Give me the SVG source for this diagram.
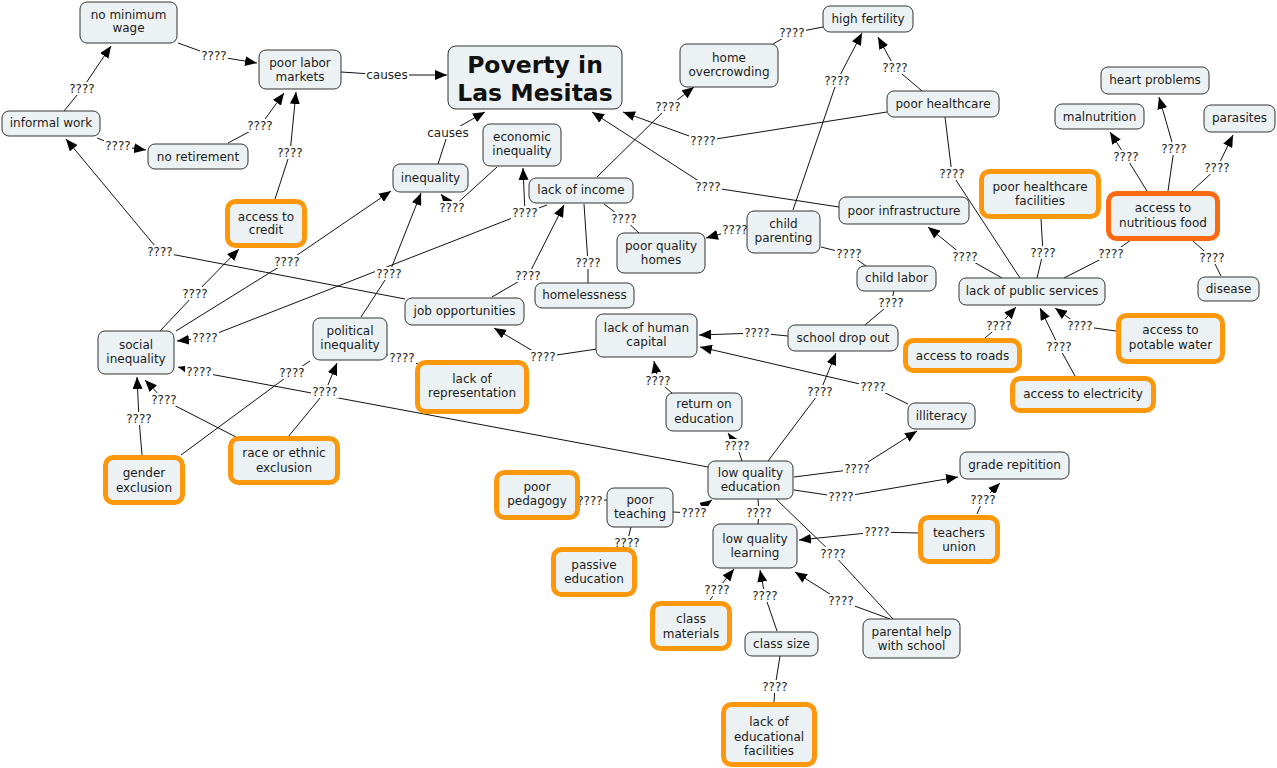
<svg xmlns="http://www.w3.org/2000/svg" width="1277" height="768" viewBox="0 0 1277 768">
<style>
text{font-family:"DejaVu Sans",Verdana,sans-serif;font-size:12px;fill:#1c1c1c;text-anchor:middle}
.n rect{fill:#ecf2f4;stroke:#333;stroke-width:1}
.o rect{fill:#ecf2f4;stroke:#fd980c;stroke-width:5}
.d rect{stroke:#fb6a10}
.t text{font-size:23.5px;font-weight:bold;fill:#111}
#connectors polyline{fill:none;stroke:#111;stroke-width:1}
#connectors .a{marker-end:url(#ah)}
.lb rect{fill:#fff}
</style>
<defs>
<marker id="ah" viewBox="0 0 12 10" refX="12" refY="5" markerWidth="12" markerHeight="10" markerUnits="userSpaceOnUse" orient="auto"><path d="M0,0 L12,5 L0,10 z" fill="#000"/></marker>
</defs>
<rect width="1277" height="768" fill="#fff"/>
<g id="connectors">
<polyline class="a" points="178,43 214,56 257,63"/>
<polyline class="a" points="64,111 82,89 111,46"/>
<polyline class="a" points="97,138 118,146 146,150"/>
<polyline class="a" points="228,143 260,126 284,93"/>
<polyline class="a" points="275,199 290,153 296,92"/>
<polyline class="a" points="341,72 387,75 447,75"/>
<polyline class="a" points="438,164 448,133 485,112"/>
<polyline class="a" points="497,167 452,208 441,194"/>
<polyline class="a" points="176,331 287,262 391,191"/>
<polyline class="a" points="160,331 195,294 239,249"/>
<polyline class="a" points="361,317 389,274 421,193"/>
<polyline class="a" points="405,299 160,252 66,139"/>
<polyline class="a" points="547,205 525,213 523,168"/>
<polyline class="a" points="525,213 205,338 177,341"/>
<polyline class="a" points="492,297 528,276 564,205"/>
<polyline points="584,204 588,263 588,283"/>
<polyline points="604,204 624,219 639,233"/>
<polyline class="a" points="597,177 668,107 694,87"/>
<polyline class="a" points="887,112 703,141 623,112"/>
<polyline class="a" points="839,207 708,187 592,112"/>
<polyline points="823,27 792,33 773,44"/>
<polyline class="a" points="793,210 837,81 862,33"/>
<polyline class="a" points="922,91 895,68 878,37"/>
<polyline points="945,117 952,174 1020,278"/>
<polyline class="a" points="1002,278 965,257 928,227"/>
<polyline points="1037,278 1043,253 1041,219"/>
<polyline points="1064,278 1111,254 1131,240"/>
<polyline class="a" points="1147,191 1126,157 1110,132"/>
<polyline class="a" points="1168,191 1174,149 1159,97"/>
<polyline class="a" points="1192,191 1217,168 1233,135"/>
<polyline points="1193,241 1212,258 1221,276"/>
<polyline class="a" points="985,338 999,326 1016,307"/>
<polyline class="a" points="1075,376 1059,347 1040,308"/>
<polyline class="a" points="1116,331 1080,326 1055,308"/>
<polyline points="821,247 849,254 866,266"/>
<polyline class="a" points="747,230 735,230 706,238"/>
<polyline points="865,325 891,303 894,291"/>
<polyline class="a" points="788,336 757,333 699,335"/>
<polyline class="a" points="908,404 873,387 700,347"/>
<polyline class="a" points="597,349 543,357 494,328"/>
<polyline class="a" points="672,393 658,381 654,361"/>
<polyline class="a" points="742,461 737,446 728,433"/>
<polyline class="a" points="768,461 820,392 836,353"/>
<polyline class="a" points="708,467 199,372 178,367"/>
<polyline class="a" points="794,477 857,469 917,431"/>
<polyline class="a" points="794,490 841,497 958,477"/>
<polyline points="758,499 759,513 758,524"/>
<polyline points="776,499 833,554 893,619"/>
<polyline class="a" points="918,533 877,532 799,540"/>
<polyline class="a" points="977,514 983,500 1000,483"/>
<polyline class="a" points="890,619 841,601 795,572"/>
<polyline class="a" points="710,600 717,590 734,569"/>
<polyline class="a" points="777,631 765,596 760,570"/>
<polyline points="774,702 775,687 780,656"/>
<polyline class="a" points="673,512 694,513 712,500"/>
<polyline points="580,500 590,501 607,500"/>
<polyline points="631,527 627,543 622,547"/>
<polyline points="387,355 402,358 418,364"/>
<polyline points="181,455 292,373 310,361"/>
<polyline class="a" points="142,455 139,419 137,377"/>
<polyline class="a" points="236,437 164,400 145,380"/>
<polyline class="a" points="288,437 325,392 337,363"/>
<g class="lb">
<rect x="200" y="49" width="28" height="13"/><text x="214" y="60">????</text>
<rect x="68" y="82" width="28" height="13"/><text x="82" y="93">????</text>
<rect x="104" y="139" width="28" height="13"/><text x="118" y="150">????</text>
<rect x="246" y="119" width="28" height="13"/><text x="260" y="130">????</text>
<rect x="276" y="146" width="28" height="13"/><text x="290" y="157">????</text>
<rect x="365" y="68" width="44" height="13"/><text x="387" y="79">causes</text>
<rect x="426" y="126" width="44" height="13"/><text x="448" y="137">causes</text>
<rect x="438" y="201" width="28" height="13"/><text x="452" y="212">????</text>
<rect x="273" y="255" width="28" height="13"/><text x="287" y="266">????</text>
<rect x="181" y="287" width="28" height="13"/><text x="195" y="298">????</text>
<rect x="375" y="267" width="28" height="13"/><text x="389" y="278">????</text>
<rect x="146" y="245" width="28" height="13"/><text x="160" y="256">????</text>
<rect x="511" y="206" width="28" height="13"/><text x="525" y="217">????</text>
<rect x="191" y="331" width="28" height="13"/><text x="205" y="342">????</text>
<rect x="514" y="269" width="28" height="13"/><text x="528" y="280">????</text>
<rect x="574" y="256" width="28" height="13"/><text x="588" y="267">????</text>
<rect x="610" y="212" width="28" height="13"/><text x="624" y="223">????</text>
<rect x="654" y="100" width="28" height="13"/><text x="668" y="111">????</text>
<rect x="689" y="134" width="28" height="13"/><text x="703" y="145">????</text>
<rect x="694" y="180" width="28" height="13"/><text x="708" y="191">????</text>
<rect x="778" y="26" width="28" height="13"/><text x="792" y="37">????</text>
<rect x="823" y="74" width="28" height="13"/><text x="837" y="85">????</text>
<rect x="881" y="61" width="28" height="13"/><text x="895" y="72">????</text>
<rect x="938" y="167" width="28" height="13"/><text x="952" y="178">????</text>
<rect x="951" y="250" width="28" height="13"/><text x="965" y="261">????</text>
<rect x="1029" y="246" width="28" height="13"/><text x="1043" y="257">????</text>
<rect x="1097" y="247" width="28" height="13"/><text x="1111" y="258">????</text>
<rect x="1112" y="150" width="28" height="13"/><text x="1126" y="161">????</text>
<rect x="1160" y="142" width="28" height="13"/><text x="1174" y="153">????</text>
<rect x="1203" y="161" width="28" height="13"/><text x="1217" y="172">????</text>
<rect x="1198" y="251" width="28" height="13"/><text x="1212" y="262">????</text>
<rect x="985" y="319" width="28" height="13"/><text x="999" y="330">????</text>
<rect x="1045" y="340" width="28" height="13"/><text x="1059" y="351">????</text>
<rect x="1066" y="319" width="28" height="13"/><text x="1080" y="330">????</text>
<rect x="835" y="247" width="28" height="13"/><text x="849" y="258">????</text>
<rect x="721" y="223" width="28" height="13"/><text x="735" y="234">????</text>
<rect x="877" y="296" width="28" height="13"/><text x="891" y="307">????</text>
<rect x="743" y="326" width="28" height="13"/><text x="757" y="337">????</text>
<rect x="859" y="380" width="28" height="13"/><text x="873" y="391">????</text>
<rect x="529" y="350" width="28" height="13"/><text x="543" y="361">????</text>
<rect x="644" y="374" width="28" height="13"/><text x="658" y="385">????</text>
<rect x="723" y="439" width="28" height="13"/><text x="737" y="450">????</text>
<rect x="806" y="385" width="28" height="13"/><text x="820" y="396">????</text>
<rect x="185" y="365" width="28" height="13"/><text x="199" y="376">????</text>
<rect x="843" y="462" width="28" height="13"/><text x="857" y="473">????</text>
<rect x="827" y="490" width="28" height="13"/><text x="841" y="501">????</text>
<rect x="745" y="506" width="28" height="13"/><text x="759" y="517">????</text>
<rect x="819" y="547" width="28" height="13"/><text x="833" y="558">????</text>
<rect x="863" y="525" width="28" height="13"/><text x="877" y="536">????</text>
<rect x="969" y="493" width="28" height="13"/><text x="983" y="504">????</text>
<rect x="827" y="594" width="28" height="13"/><text x="841" y="605">????</text>
<rect x="703" y="583" width="28" height="13"/><text x="717" y="594">????</text>
<rect x="751" y="589" width="28" height="13"/><text x="765" y="600">????</text>
<rect x="761" y="680" width="28" height="13"/><text x="775" y="691">????</text>
<rect x="680" y="506" width="28" height="13"/><text x="694" y="517">????</text>
<rect x="576" y="494" width="28" height="13"/><text x="590" y="505">????</text>
<rect x="613" y="536" width="28" height="13"/><text x="627" y="547">????</text>
<rect x="388" y="351" width="28" height="13"/><text x="402" y="362">????</text>
<rect x="278" y="366" width="28" height="13"/><text x="292" y="377">????</text>
<rect x="125" y="412" width="28" height="13"/><text x="139" y="423">????</text>
<rect x="150" y="393" width="28" height="13"/><text x="164" y="404">????</text>
<rect x="311" y="385" width="28" height="13"/><text x="325" y="396">????</text>
</g>
</g>
<g id="n-no-minimum-wage" class="n"><rect x="80" y="2" width="97" height="41" rx="7"/><text x="128.5" y="18.5">no minimum</text><text x="128.5" y="32">wage</text></g>
<g id="n-poor-labor-markets" class="n"><rect x="259" y="50" width="82" height="39" rx="7"/><text x="300" y="66.5">poor labor</text><text x="300" y="80.5">markets</text></g>
<g id="n-poverty" class="n t"><rect x="448" y="46" width="174" height="63" rx="8"/><text x="535" y="72.7">Poverty in</text><text x="535" y="100.7">Las Mesitas</text></g>
<g id="n-informal-work" class="n"><rect x="2" y="111" width="98" height="25" rx="7"/><text x="51" y="127.3">informal work</text></g>
<g id="n-no-retirement" class="n"><rect x="148" y="144" width="100" height="25" rx="7"/><text x="198" y="161">no retirement</text></g>
<g id="n-inequality" class="n"><rect x="393" y="164" width="75" height="28" rx="7"/><text x="430.5" y="181.5">inequality</text></g>
<g id="n-economic-inequality" class="n"><rect x="483" y="124" width="78" height="42" rx="7"/><text x="522" y="141">economic</text><text x="522" y="155">inequality</text></g>
<g id="n-lack-of-income" class="n"><rect x="529" y="178" width="104" height="25" rx="7"/><text x="581" y="194.3">lack of income</text></g>
<g id="n-home-overcrowding" class="n"><rect x="680" y="44" width="98" height="43" rx="7"/><text x="729" y="61.7">home</text><text x="729" y="76">overcrowding</text></g>
<g id="n-high-fertility" class="n"><rect x="823" y="6" width="90" height="26" rx="7"/><text x="868" y="22.5">high fertility</text></g>
<g id="n-poor-healthcare" class="n"><rect x="887" y="91" width="112" height="26" rx="7"/><text x="943" y="107.5">poor healthcare</text></g>
<g id="n-poor-infrastructure" class="n"><rect x="839" y="197" width="130" height="27" rx="7"/><text x="904" y="214.5">poor infrastructure</text></g>
<g id="n-child-parenting" class="n"><rect x="747" y="211" width="73" height="42" rx="7"/><text x="783.5" y="227.7">child</text><text x="783.5" y="242.3">parenting</text></g>
<g id="n-poor-quality-homes" class="n"><rect x="617" y="233" width="88" height="40" rx="7"/><text x="661" y="249.5">poor quality</text><text x="661" y="263.5">homes</text></g>
<g id="n-child-labor" class="n"><rect x="857" y="266" width="79" height="25" rx="7"/><text x="896.5" y="282">child labor</text></g>
<g id="n-heart-problems" class="n"><rect x="1101" y="67" width="108" height="27" rx="7"/><text x="1155" y="84">heart problems</text></g>
<g id="n-malnutrition" class="n"><rect x="1055" y="104" width="89" height="25" rx="7"/><text x="1099.5" y="120.7">malnutrition</text></g>
<g id="n-parasites" class="n"><rect x="1204" y="105" width="71" height="27" rx="7"/><text x="1239.5" y="122">parasites</text></g>
<g id="n-poor-healthcare-facilities" class="n o"><rect x="981.5" y="171.5" width="117" height="45" rx="8"/><text x="1040" y="190.7">poor healthcare</text><text x="1040" y="205">facilities</text></g>
<g id="n-access-to-nutritious-food" class="n o d"><rect x="1108.5" y="193.5" width="109" height="45" rx="8"/><text x="1163" y="212.3">access to</text><text x="1163" y="226.7">nutritious food</text></g>
<g id="n-lack-of-public-services" class="n"><rect x="959" y="278" width="146" height="27" rx="7"/><text x="1032" y="295">lack of public services</text></g>
<g id="n-disease" class="n"><rect x="1198" y="277" width="61" height="24" rx="7"/><text x="1228.5" y="292.7">disease</text></g>
<g id="n-access-to-credit" class="n o"><rect x="227.5" y="201.5" width="77" height="44" rx="8"/><text x="266" y="220.7">access to</text><text x="266" y="234.3">credit</text></g>
<g id="n-social-inequality" class="n"><rect x="98" y="331" width="76" height="43" rx="7"/><text x="136" y="349.3">social</text><text x="136" y="363.3">inequality</text></g>
<g id="n-job-opportunities" class="n"><rect x="405" y="298" width="119" height="27" rx="7"/><text x="464.5" y="315">job opportunities</text></g>
<g id="n-homelessness" class="n"><rect x="535" y="283" width="99" height="25" rx="7"/><text x="584.5" y="299.3">homelessness</text></g>
<g id="n-political-inequality" class="n"><rect x="313" y="318" width="74" height="42" rx="7"/><text x="350" y="335">political</text><text x="350" y="349.3">inequality</text></g>
<g id="n-lack-of-human-capital" class="n"><rect x="596" y="314" width="101" height="43" rx="7"/><text x="646.5" y="331.7">lack of human</text><text x="646.5" y="346">capital</text></g>
<g id="n-school-drop-out" class="n"><rect x="788" y="325" width="110" height="26" rx="7"/><text x="843" y="341.5">school drop out</text></g>
<g id="n-lack-of-representation" class="n o"><rect x="417.5" y="362.5" width="109" height="49" rx="8"/><text x="472" y="382.5">lack of</text><text x="472" y="397.3">representation</text></g>
<g id="n-access-to-roads" class="n o"><rect x="905.5" y="340.5" width="114" height="30" rx="8"/><text x="962.5" y="360">access to roads</text></g>
<g id="n-access-to-potable-water" class="n o"><rect x="1118.5" y="315.5" width="104" height="46" rx="8"/><text x="1170.5" y="334.3">access to</text><text x="1170.5" y="348.7">potable water</text></g>
<g id="n-access-to-electricity" class="n o"><rect x="1012.5" y="378.5" width="141" height="32" rx="8"/><text x="1083" y="397.7">access to electricity</text></g>
<g id="n-illiteracy" class="n"><rect x="908" y="403" width="67" height="26" rx="7"/><text x="941.5" y="419.7">illiteracy</text></g>
<g id="n-return-on-education" class="n"><rect x="666" y="393" width="76" height="38" rx="7"/><text x="704" y="408.3">return on</text><text x="704" y="422.7">education</text></g>
<g id="n-gender-exclusion" class="n o"><rect x="105.5" y="457.5" width="77" height="45" rx="8"/><text x="144" y="476.7">gender</text><text x="144" y="491.5">exclusion</text></g>
<g id="n-race-or-ethnic-exclusion" class="n o"><rect x="230.5" y="438.5" width="107" height="44" rx="8"/><text x="284" y="457.3">race or ethnic</text><text x="284" y="472">exclusion</text></g>
<g id="n-low-quality-education" class="n"><rect x="708" y="461" width="85" height="38" rx="7"/><text x="750.5" y="476.7">low quality</text><text x="750.5" y="491.3">education</text></g>
<g id="n-grade-repitition" class="n"><rect x="960" y="452" width="109" height="27" rx="7"/><text x="1014.5" y="469">grade repitition</text></g>
<g id="n-poor-pedagogy" class="n o"><rect x="496.5" y="472.5" width="81" height="45" rx="8"/><text x="537" y="490.5">poor</text><text x="537" y="504.5">pedagogy</text></g>
<g id="n-poor-teaching" class="n"><rect x="607" y="488" width="66" height="39" rx="7"/><text x="640" y="503.5">poor</text><text x="640" y="517.5">teaching</text></g>
<g id="n-teachers-union" class="n o"><rect x="920.5" y="517.5" width="77" height="44" rx="8"/><text x="959" y="536.5">teachers</text><text x="959" y="551">union</text></g>
<g id="n-low-quality-learning" class="n"><rect x="713" y="524" width="84" height="44" rx="7"/><text x="755" y="542.7">low quality</text><text x="755" y="556.7">learning</text></g>
<g id="n-passive-education" class="n o"><rect x="553.5" y="549.5" width="81" height="45" rx="8"/><text x="594" y="569">passive</text><text x="594" y="583.3">education</text></g>
<g id="n-class-materials" class="n o"><rect x="652.5" y="603.5" width="77" height="45" rx="8"/><text x="691" y="623">class</text><text x="691" y="637.5">materials</text></g>
<g id="n-class-size" class="n"><rect x="745" y="632" width="73" height="24" rx="7"/><text x="781.5" y="648.3">class size</text></g>
<g id="n-parental-help-with-school" class="n"><rect x="863" y="619" width="97" height="39" rx="7"/><text x="911.5" y="635.7">parental help</text><text x="911.5" y="650">with school</text></g>
<g id="n-lack-of-educational-facilities" class="n o"><rect x="723.5" y="704.5" width="91" height="60" rx="8"/><text x="769" y="725.7">lack of</text><text x="769" y="740.7">educational</text><text x="769" y="755.3">facilities</text></g>
</svg>
